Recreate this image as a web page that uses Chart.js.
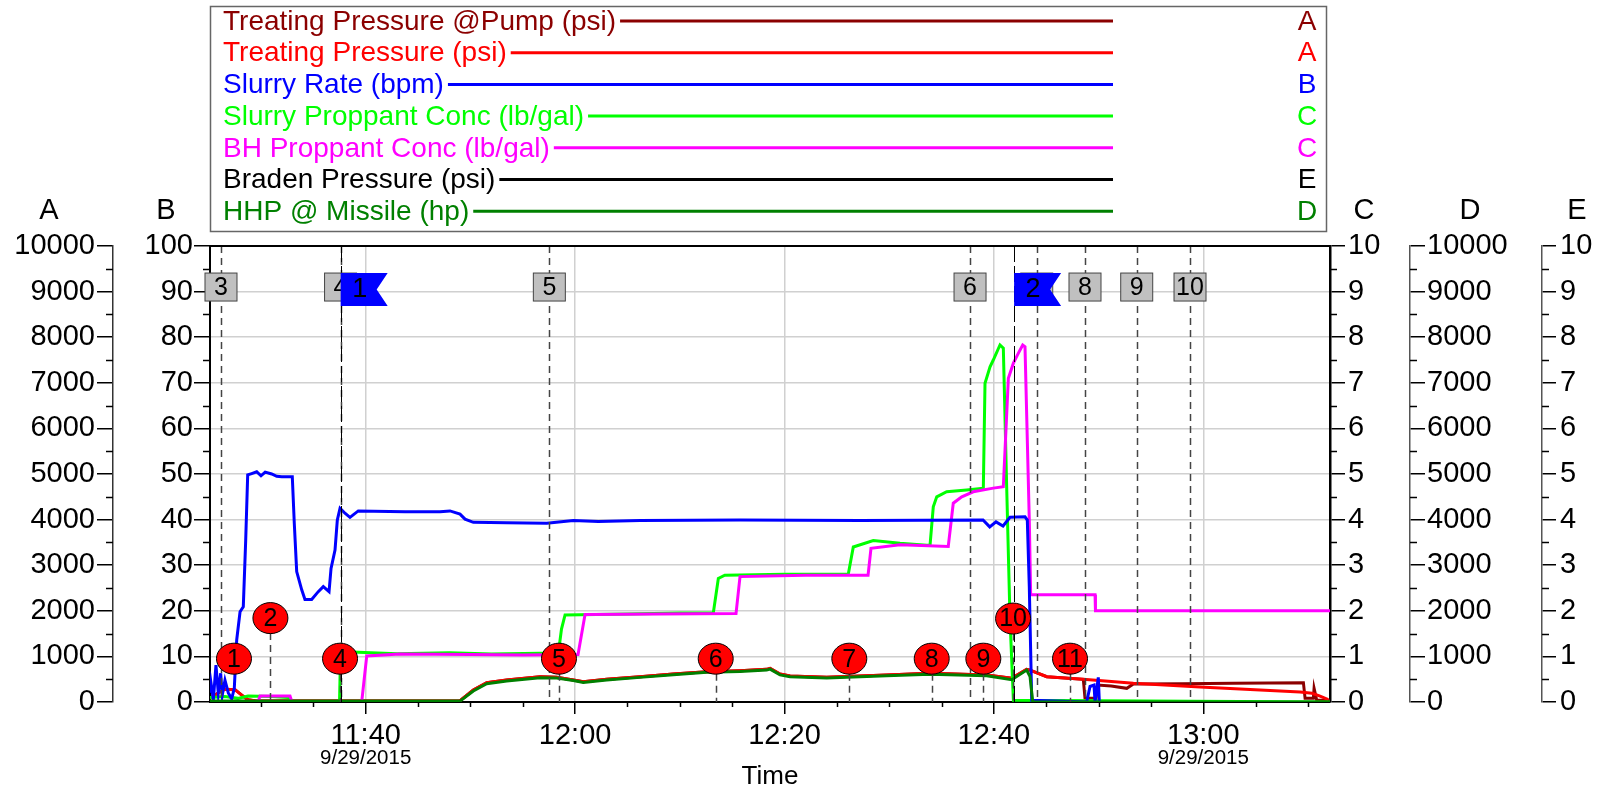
<!DOCTYPE html>
<html>
<head>
<meta charset="utf-8">
<script src="https://cdn.jsdelivr.net/npm/chart.js@4.4.0/dist/chart.umd.min.js"></script>
<style>
html, body { margin: 0; padding: 0; background: #fff; }
#wrap { width: 1603px; height: 788px; }
</style>
</head>
<body>
<div id="wrap"><canvas id="myChart"></canvas></div>
<script>
// Time is in minutes after midnight (700 = 11:40)
var xMin = 685.13, xMax = 792.1;
var xMajorTicks = [700, 720, 740, 760, 780];
var dateTicks = [700, 780];
var dateText = '9/29/2015';

// Treating Pressure @Pump (psi) - axis A
var pumpPresTime = [685.13, 686.28, 686.56, 687.52, 688.28, 688.76, 689.52, 709.01, 710.28, 711.56, 713.47, 716.65, 718.24, 719.83, 720.78, 723.02, 726.20, 729.38, 732.57, 735.75, 738.30, 738.62, 739.57, 740.53, 744.03, 749.76, 753.90, 759.31, 761.70, 763.13, 763.45, 765.05, 768.54, 768.70, 769.76, 769.90, 771.2, 772.69, 773.32, 778.0, 782.87, 789.56, 789.72, 790.51, 790.58, 790.83, 792.1];
var pumpPresVal  = [80, 250, 280, 270, 130, 50, 20, 30, 263, 424, 482, 556, 545, 482, 446, 497, 556, 614, 665, 687, 716, 738, 614, 570, 541, 592, 629, 592, 519, 716, 700, 556, 497, 81, 81, 373, 350, 300, 395, 400, 409, 424, 81, 81, 300, 44, 30];

// Treating Pressure (psi) - axis A
var treatPresTime = [685.13, 686.28, 686.56, 687.52, 688.28, 688.76, 689.52, 709.01, 710.28, 711.56, 713.47, 716.65, 718.24, 719.83, 720.78, 723.02, 726.20, 729.38, 732.57, 735.75, 738.30, 738.62, 739.57, 740.53, 744.03, 749.76, 753.90, 759.31, 761.70, 763.13, 763.45, 765.05, 768.54, 773.32, 779.69, 789.24, 790.38, 791.15, 791.94];
var treatPresVal  = [80, 250, 280, 270, 130, 50, 20, 30, 263, 424, 482, 556, 545, 482, 446, 497, 556, 614, 665, 687, 716, 738, 614, 570, 541, 592, 629, 592, 519, 716, 700, 556, 497, 409, 330, 220, 190, 130, 50];

// Slurry Rate (bpm) - axis B
var rateTime = [685.15, 685.23, 685.45, 685.70, 685.92, 686.15, 686.30, 686.56, 686.88, 687.20, 687.45, 687.68, 688.00, 688.31, 688.54, 688.73, 689.11, 689.59, 690.0, 690.4, 691.02, 691.5, 691.98, 692.99, 693.18, 693.41, 693.89, 694.20, 694.84, 695.47, 695.95, 696.50, 696.69, 697.07, 697.29, 697.55, 698.02, 698.50, 699.29, 703.76, 707.10, 708.05, 709.01, 709.49, 710.28, 713.47, 717.29, 719.83, 722.22, 726.20, 735.75, 747.21, 758.96, 759.6, 760.2, 760.87, 761.54, 762.97, 763.19, 763.38, 763.61, 768.86, 769.18, 769.56, 769.66, 769.97, 770.07];
var rateVal  = [2, 4.1, 0.5, 8.1, 2, 6.3, 1.5, 4.8, 2, 0.7, 3, 13.6, 19.8, 20.9, 35.5, 49.8, 50.1, 50.5, 49.6, 50.4, 50, 49.5, 49.4, 49.4, 39.2, 28.6, 24.6, 22.5, 22.5, 24.2, 25.3, 24.2, 29.3, 33.3, 39.9, 42.5, 41.4, 40.5, 41.9, 41.7, 41.7, 41.9, 41.2, 40.1, 39.4, 39.3, 39.2, 39.8, 39.6, 39.8, 39.9, 39.8, 39.9, 38.4, 39.5, 38.6, 40.5, 40.6, 39.9, 25.3, 0.4, 0, 3.4, 3.7, 0, 5.4, 0];

// Slurry Proppant Conc (lb/gal) - axis C
var slurryConcTime = [685.13, 686.56, 687.80, 688.76, 691.02, 692.58, 692.96, 697.5, 697.6, 698.02, 703.0, 708.0, 712.0, 716.65, 718.40, 718.7, 719.04, 725.0, 730.0, 733.20, 733.68, 734.3, 740.0, 746.09, 746.57, 748.48, 751.03, 753.58, 753.90, 754.21, 754.54, 755.49, 757.40, 758.99, 759.15, 759.63, 759.94, 760.58, 760.90, 761.22, 761.54, 761.86, 792.1];
var slurryConcVal  = [0.1, 0.12, 0.08, 0.13, 0.12, 0.1, 0, 0, 1.08, 1.1, 1.06, 1.08, 1.05, 1.07, 1.07, 1.6, 1.91, 1.93, 1.95, 1.95, 2.71, 2.78, 2.8, 2.8, 3.4, 3.54, 3.48, 3.44, 3.44, 4.28, 4.5, 4.61, 4.65, 4.69, 6.99, 7.35, 7.5, 7.83, 7.76, 4.72, 1.8, 0.04, 0];

// BH Proppant Conc (lb/gal) - axis C
var bhConcTime = [685.13, 689.71, 689.91, 692.77, 692.96, 699.62, 700.10, 703.28, 710.0, 715.0, 720.28, 720.95, 728.0, 735.37, 735.75, 742.0, 747.98, 748.26, 751.03, 755.64, 756.12, 756.93, 758.03, 759.94, 760.90, 761.38, 761.86, 762.34, 762.75, 762.97, 763.38, 763.51, 769.66, 769.70, 792.1];
var bhConcVal  = [0, 0, 0.13, 0.13, 0, 0, 1.01, 1.05, 1.04, 1.03, 1.04, 1.92, 1.93, 1.94, 2.75, 2.78, 2.78, 3.37, 3.45, 3.41, 4.36, 4.5, 4.61, 4.69, 4.72, 7.1, 7.43, 7.65, 7.83, 7.79, 3.99, 2.35, 2.35, 2.0, 2.0];

// Braden Pressure (psi) - axis E, no trace visible
var bradenTime = [];
var bradenVal = [];

// HHP @ Missile (hp) - axis D
var hhpTime = [685.13, 709.01, 710.28, 711.56, 713.47, 716.65, 718.24, 719.83, 720.78, 723.02, 726.20, 729.38, 732.57, 735.75, 738.30, 738.62, 739.57, 740.53, 744.03, 749.76, 753.90, 759.31, 761.70, 763.13, 763.45, 763.71, 792.1];
var hhpVal  = [20, 20, 240, 400, 460, 530, 525, 470, 430, 480, 540, 600, 650, 670, 700, 720, 595, 555, 525, 575, 610, 575, 490, 700, 556, 0, 0];

// event markers
var boxEventTime = [686.18, 697.6, 717.54, 757.72, 764.09, 768.70, 773.64, 778.73];
var boxEventText = ['3', '4', '5', '6', '7', '8', '9', '10'];
var flagTime = [697.61, 761.93];
var flagText = ['1', '2'];
var stageTime = [687.42, 690.9, 697.55, 718.46, 733.43, 746.19, 754.06, 758.99, 761.83, 767.27];
var stageLevel = [9.5, 18.4, 9.5, 9.5, 9.5, 9.5, 9.5, 9.5, 18.3, 9.5];
var stageText = ['1', '2', '4', '5', '6', '7', '8', '9', '10', '11'];

var FONT = '"Liberation Sans", Arial, sans-serif';
Chart.defaults.font.family = FONT;
Chart.defaults.color = '#000';

function pts(t, v) {
    return t.map(function (x, i) { return { x: x, y: v[i] }; });
}

function fmtTime(v) {
    var h = Math.floor(v / 60);
    var m = Math.round(v - h * 60);
    return h + ':' + (m < 10 ? '0' + m : m);
}

var legendAxis = ['A', 'A', 'B', 'C', 'C', 'E', 'D'];

var datasets = [
    { label: 'Treating Pressure @Pump (psi)', data: pts(pumpPresTime, pumpPresVal), borderColor: '#8b0000', yAxisID: 'yA', order: 6 },
    { label: 'Treating Pressure (psi)', data: pts(treatPresTime, treatPresVal), borderColor: '#ff0000', yAxisID: 'yA', order: 5 },
    { label: 'Slurry Rate (bpm)', data: pts(rateTime, rateVal), borderColor: '#0000ff', yAxisID: 'yB', order: 2 },
    { label: 'Slurry Proppant Conc (lb/gal)', data: pts(slurryConcTime, slurryConcVal), borderColor: '#00ff00', yAxisID: 'yC', order: 4 },
    { label: 'BH Proppant Conc (lb/gal)', data: pts(bhConcTime, bhConcVal), borderColor: '#ff00ff', yAxisID: 'yC', order: 3 },
    { label: 'Braden Pressure (psi)', data: pts(bradenTime, bradenVal), borderColor: '#000000', yAxisID: 'yE', order: 7 },
    { label: 'HHP @ Missile (hp)', data: pts(hhpTime, hhpVal), borderColor: '#008000', yAxisID: 'yD', order: 1 }
];

function yAxis(pos, weight, max, step, width, tickLen, pad, borderColor, borderWidth, grid) {
    return {
        type: 'linear', position: pos, weight: weight, min: 0, max: max,
        afterFit: function (s) { s.width = width; },
        ticks: { stepSize: step, font: { size: 29 }, color: '#000', padding: pad, autoSkip: false,
                 callback: function (v) { return String(v); } },
        grid: { drawOnChartArea: grid, color: '#d0d0d0', lineWidth: 1.5, tickColor: '#000', tickWidth: 1.5, tickLength: tickLen },
        border: { color: borderColor, width: borderWidth }
    };
}

// legend box, axis letters, minor ticks, dates
var decor = {
    id: 'decor',
    afterDraw: function (chart) {
        var ctx = chart.ctx;
        ctx.save();
        // legend
        ctx.strokeStyle = '#666';
        ctx.lineWidth = 1.5;
        ctx.strokeRect(210.5, 6.5, 1116, 225);
        ctx.font = '28px ' + FONT;
        ctx.textBaseline = 'middle';
        chart.data.datasets.forEach(function (ds, i) {
            var y = 21 + i * 31.7;
            ctx.fillStyle = ds.borderColor;
            ctx.textAlign = 'left';
            ctx.fillText(ds.label, 223, y + 1);
            var w = ctx.measureText(ds.label).width;
            ctx.strokeStyle = ds.borderColor;
            ctx.lineWidth = 3;
            ctx.beginPath();
            ctx.moveTo(223 + w + 4, y);
            ctx.lineTo(1113, y);
            ctx.stroke();
            ctx.textAlign = 'center';
            ctx.fillText(legendAxis[i], 1307, y + 1);
        });
        // axis letters
        ctx.fillStyle = '#000';
        ctx.font = '29px ' + FONT;
        ctx.textAlign = 'center';
        [['yA', 'A', 49], ['yB', 'B', 166], ['yC', 'C', 1364], ['yD', 'D', 1470], ['yE', 'E', 1577]].forEach(function (a) {
            ctx.fillText(a[1], a[2], 211);
        });
        // minor ticks on y axes
        ctx.strokeStyle = '#000';
        ctx.lineWidth = 1.5;
        ['yA', 'yB', 'yC', 'yD', 'yE'].forEach(function (id) {
            var s = chart.scales[id];
            var step = (s.max - s.min) / 10;
            for (var k = 0; k < 10; k++) {
                var py = Math.round(s.getPixelForValue(s.min + (k + 0.5) * step)) + 0.5;
                ctx.beginPath();
                if (s.position === 'left') { ctx.moveTo(s.right - 7, py); ctx.lineTo(s.right, py); }
                else { ctx.moveTo(s.left, py); ctx.lineTo(s.left + 7, py); }
                ctx.stroke();
            }
        });
        // minor ticks on x axis
        var x = chart.scales.x, a = chart.chartArea;
        for (var v = 690; v <= 790; v += 5) {
            if (v % 20 === 0) continue;
            var px = Math.round(x.getPixelForValue(v)) + 0.5;
            ctx.beginPath();
            ctx.moveTo(px, a.bottom);
            ctx.lineTo(px, a.bottom + 5);
            ctx.stroke();
        }
        // top frame
        ctx.lineWidth = 2;
        ctx.beginPath();
        ctx.moveTo(a.left, a.top);
        ctx.lineTo(a.right, a.top);
        ctx.stroke();
        // date lines under ticks
        ctx.font = '20.5px ' + FONT;
        ctx.textBaseline = 'middle';
        dateTicks.forEach(function (t) {
            ctx.fillText(dateText, x.getPixelForValue(t), 758);
        });
        ctx.restore();
    }
};

var annotate = {
    id: 'annotate',
    afterDatasetsDraw: function (chart) {
        var ctx = chart.ctx, x = chart.scales.x, yB = chart.scales.yB, a = chart.chartArea;
        ctx.save();
        function vline(px, y0, y1) {
            ctx.beginPath();
            ctx.moveTo(px, y0);
            ctx.lineTo(px, y1);
            ctx.stroke();
        }
        // dashed event lines
        ctx.setLineDash([7, 5]);
        ctx.strokeStyle = '#444';
        ctx.lineWidth = 1.5;
        boxEventTime.forEach(function (t) {
            vline(Math.round(x.getPixelForValue(t)) + 0.5, a.top, a.bottom);
        });
        stageTime.forEach(function (t, i) {
            if (stageText[i] === '1') return;
            vline(Math.round(x.getPixelForValue(t)) + 0.5, yB.getPixelForValue(stageLevel[i]) + 15, a.bottom);
        });
        ctx.setLineDash([16, 4]);
        ctx.strokeStyle = '#000';
        ctx.lineWidth = 1;
        flagTime.forEach(function (t) {
            vline(Math.round(x.getPixelForValue(t)) + 0.5, a.top, a.bottom);
        });
        ctx.setLineDash([]);

        var by = yB.getPixelForValue(91);
        ctx.textAlign = 'center';
        ctx.textBaseline = 'middle';
        // gray boxes
        ctx.font = '25px ' + FONT;
        boxEventTime.forEach(function (t, i) {
            var px = x.getPixelForValue(t);
            ctx.fillStyle = '#c0c0c0';
            ctx.fillRect(px - 16, by - 14, 32, 28);
            ctx.strokeStyle = '#444';
            ctx.lineWidth = 1;
            ctx.strokeRect(px - 16, by - 14, 32, 28);
            ctx.fillStyle = '#000';
            ctx.fillText(boxEventText[i], px, by + 1);
        });
        // blue flags
        ctx.font = '27px ' + FONT;
        flagTime.forEach(function (t, i) {
            var px = x.getPixelForValue(t), top = by - 14;
            ctx.fillStyle = '#0000ff';
            ctx.beginPath();
            ctx.moveTo(px, top);
            ctx.lineTo(px + 47, top);
            ctx.lineTo(px + 36, top + 16.5);
            ctx.lineTo(px + 47, top + 33);
            ctx.lineTo(px, top + 33);
            ctx.closePath();
            ctx.fill();
            ctx.fillStyle = '#000';
            ctx.fillText(flagText[i], px + 19, top + 17);
        });
        // red stage markers
        ctx.font = '25px ' + FONT;
        stageTime.forEach(function (t, i) {
            var px = x.getPixelForValue(t), py = yB.getPixelForValue(stageLevel[i]);
            ctx.beginPath();
            ctx.ellipse(px, py, 17.5, 15.5, 0, 0, Math.PI * 2);
            ctx.fillStyle = '#ff0000';
            ctx.fill();
            ctx.strokeStyle = '#000';
            ctx.lineWidth = 1;
            ctx.stroke();
            ctx.fillStyle = '#000';
            ctx.fillText(stageText[i], px, py + 1);
        });
        ctx.restore();
    }
};

var ctx = document.getElementById('myChart').getContext('2d');
var myChart = new Chart(ctx, {
    type: 'line',
    data: { datasets: datasets },
    options: {
        responsive: true,
        maintainAspectRatio: false,
        animation: false,
        layout: { padding: { top: 246, left: 0, right: 0, bottom: 0 } },
        elements: { point: { radius: 0 }, line: { borderWidth: 3, tension: 0 } },
        plugins: { legend: { display: false }, tooltip: { enabled: false } },
        scales: {
            x: {
                type: 'linear', position: 'bottom', min: xMin, max: xMax,
                afterBuildTicks: function (s) { s.ticks = xMajorTicks.map(function (v) { return { value: v }; }); },
                afterFit: function (s) { s.height = 86; },
                ticks: { callback: fmtTime, font: { size: 29 }, color: '#000', maxRotation: 0, minRotation: 0, autoSkip: false, padding: 5, align: 'center' },
                grid: { color: '#d0d0d0', lineWidth: 1.5, tickColor: '#000', tickWidth: 1.5, tickLength: 12 },
                border: { color: '#000', width: 2 },
                title: { display: true, text: 'Time', font: { size: 26 }, color: '#000', padding: { top: 0, bottom: -4 } }
            },
            yA: yAxis('left', 2, 10000, 1000, 113, 16, 2, '#333', 1.5, false),
            yB: yAxis('left', 1, 100, 10, 97, 16, 1, '#000', 2, true),
            yC: yAxis('right', 1, 10, 1, 80, 15, 3, '#000', 2.5, false),
            yD: yAxis('right', 2, 10000, 1000, 132, 15, 2, '#555', 1.5, false),
            yE: yAxis('right', 3, 10, 1, 61, 14, 4, '#555', 1.5, false)
        }
    },
    plugins: [annotate, decor]
});
</script>
</body>
</html>
